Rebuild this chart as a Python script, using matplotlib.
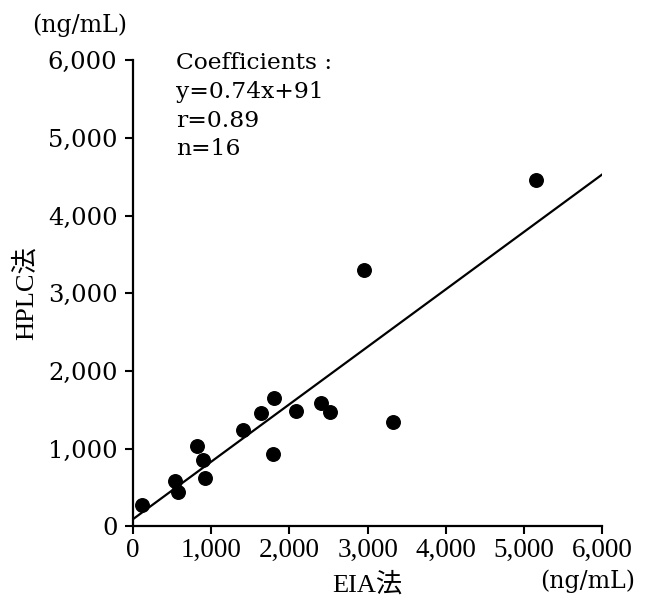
import numpy as np
import matplotlib
matplotlib.use('Agg')
import matplotlib.pyplot as plt

plt.rcParams['font.family'] = ['DejaVu Serif', 'Noto Sans CJK JP']

# EIA vs HPLC measurements (ng/mL)
eia = [115, 540, 575, 825, 894, 923, 1405, 1642, 1805, 1796, 2086, 2401, 2520, 2958, 3321, 5151]
hplc = [277, 585, 440, 1039, 855, 628, 1241, 1456, 1653, 932, 1486, 1592, 1473, 3299, 1340, 4457]

# regression coefficients
slope = 0.74
intercept = 91
r_value = 0.89

ticks = [0, 1000, 2000, 3000, 4000, 5000, 6000]
tick_labels = ['0', '1,000', '2,000', '3,000', '4,000', '5,000', '6,000']

fig = plt.figure(figsize=(6.45, 6.05), dpi=100)
ax = fig.add_axes([0.2057, 0.1298, 0.7284, 0.771])

ax.scatter(eia, hplc, s=95, color='black', zorder=3, clip_on=False)

fit_x = np.array([0, 6000])
ax.plot(fit_x, slope * fit_x + intercept, color='black', lw=1.6)

ax.set_xlim(0, 6000)
ax.set_ylim(0, 6000)

for side in ['top', 'right']:
    ax.spines[side].set_visible(False)
for side in ['left', 'bottom']:
    ax.spines[side].set_linewidth(1.6)

ax.set_xticks(ticks)
ax.set_xticklabels(tick_labels, family=['Liberation Serif'], fontsize=19.5)
ax.set_yticks(ticks)
ax.set_yticklabels(tick_labels, fontsize=17.5)
ax.tick_params(axis='x', direction='out', length=6, width=1.5, pad=2)
ax.tick_params(axis='y', direction='out', length=6, width=1.5, pad=5)

ax.set_xlabel('EIA法', family=['Liberation Serif', 'Noto Sans CJK JP'], fontsize=19, labelpad=7)
ax.set_ylabel('HPLC法', family=['Liberation Serif', 'Noto Sans CJK JP'], fontsize=19, labelpad=7)

# units
fig.text(80 / 645, 1 - 25 / 605, '(ng/mL)', fontsize=17, ha='center', va='center')
fig.text(635 / 645, 1 - 581 / 605, '(ng/mL)', fontsize=17, ha='right', va='center')

coef_text = 'Coefficients :\ny=%.2fx+%d\nr=%.2f\nn=%d' % (slope, intercept, r_value, len(eia))
ax.text(176 / 645, 1 - 52 / 605, coef_text, transform=fig.transFigure,
        fontsize=16.8, ha='left', va='top', linespacing=1.4)

fig.savefig('out.png', dpi=100)
